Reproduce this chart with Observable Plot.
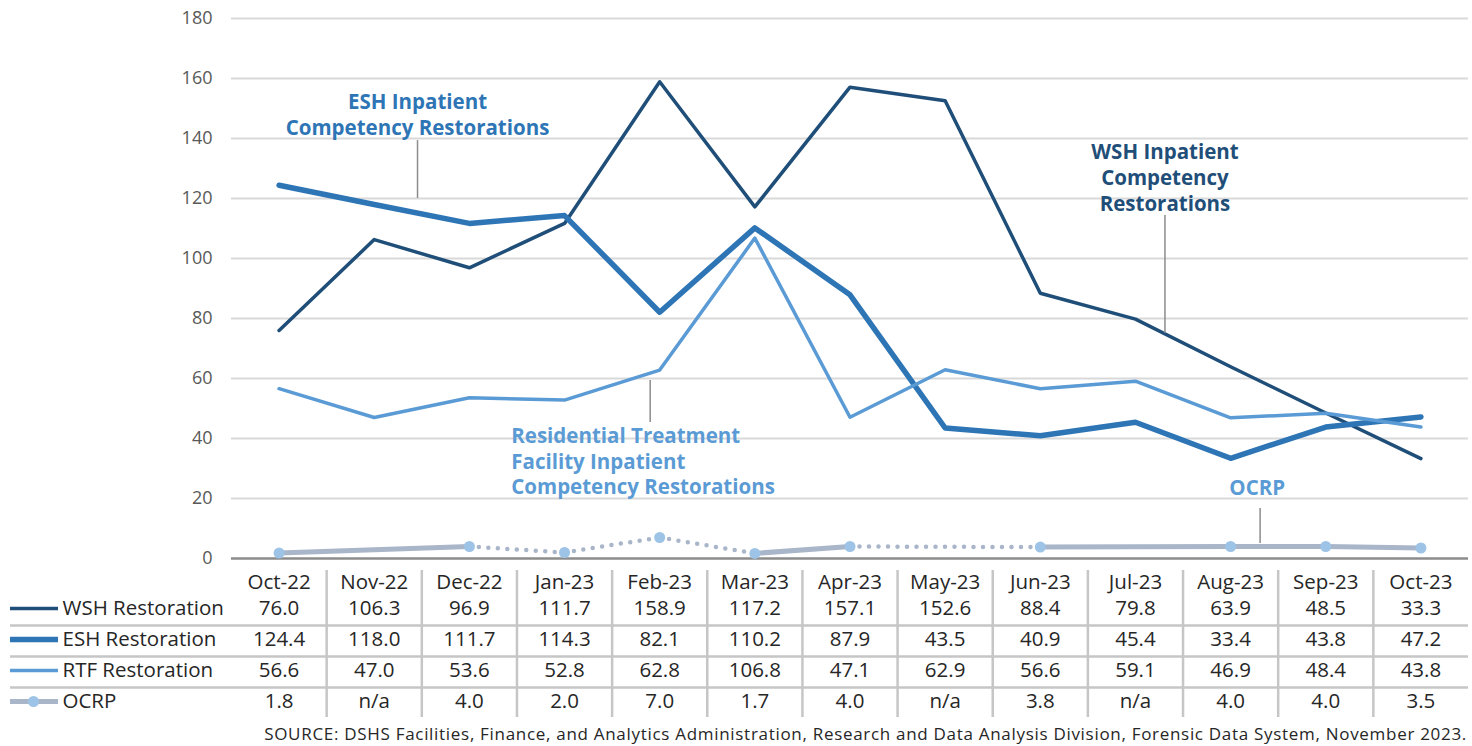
<!DOCTYPE html>
<html>
<head>
<meta charset="utf-8">
<script src="https://cdn.jsdelivr.net/npm/d3@7"></script>
<script src="https://cdn.jsdelivr.net/npm/@observablehq/plot@0.6"></script>
<style>
  html, body { margin: 0; padding: 0; background: #fff; }
  body { width: 1472px; height: 746px; overflow: hidden; font-family: "Open Sans", Lato, sans-serif; }
  svg { display: block; }
  #source { width: 1467px; text-align: right; font-size: 17px; letter-spacing: 0.7px; color: #262626; line-height: 28px; white-space: nowrap; }
</style>
</head>
<body>
<div id="chart"></div>
<div id="table"></div>
<div id="source">SOURCE: DSHS Facilities, Finance, and Analytics Administration, Research and Data Analysis Division, Forensic Data System, November 2023.</div>
<script>
// ---------- data ----------
const months = ["Oct-22","Nov-22","Dec-22","Jan-23","Feb-23","Mar-23","Apr-23","May-23","Jun-23","Jul-23","Aug-23","Sep-23","Oct-23"];
const wsh  = [76.0,106.3,96.9,111.7,158.9,117.2,157.1,152.6,88.4,79.8,63.9,48.5,33.3];
const esh  = [124.4,118.0,111.7,114.3,82.1,110.2,87.9,43.5,40.9,45.4,33.4,43.8,47.2];
const rtf  = [56.6,47.0,53.6,52.8,62.8,106.8,47.1,62.9,56.6,59.1,46.9,48.4,43.8];
const ocrp = [1.8,null,4.0,2.0,7.0,1.7,4.0,null,3.8,null,4.0,4.0,3.5];
// line style of each OCRP segment between consecutive reported months
const ocrpSegmentStyle = ["solid","dotted","dotted","dotted","solid","dotted","solid","solid","solid"];
const yTicks = [0,20,40,60,80,100,120,140,160,180];
const seriesNames = ["WSH Restoration","ESH Restoration","RTF Restoration","OCRP"];

// annotation labels (x in month-index units, y in value units)
const annoCentered = [
  {text: "ESH Inpatient\nCompetency Restorations", x: 1.455, y: 148.2, color: "#2E75B6"},
  {text: "WSH Inpatient\nCompetency\nRestorations", x: 9.31, y: 127.2, color: "#1F4E79"},
  {text: "OCRP", x: 10.28, y: 24, color: "#5B9BD5"}
];
const annoStart = [
  {text: "Residential Treatment\nFacility Inpatient\nCompetency Restorations", x: 2.44, y: 32.7, color: "#5B9BD5"}
];
const annoLeaders = [
  {x: 1.455, y1: 139.3, y2: 120},
  {x: 9.31, y1: 114.3, y2: 75},
  {x: 3.90, y1: 59.3, y2: 45.3},
  {x: 10.31, y1: 16.7, y2: 5}
];

// ---------- styles ----------
const colors = {WSH: "#1F4E79", ESH: "#2E75B6", RTF: "#5B9BD5", OCRPline: "#A9B5C9", OCRPdot: "#9DC3E6"};
const FONT = "'Open Sans', Lato, sans-serif";

// ---------- derived tables ----------
const toPts = arr => arr.map((v, i) => ({i, v})).filter(d => d.v != null);
const ocrpPts = toPts(ocrp);
const ocrpSegs = ocrpPts.slice(1).map((d, k) => ({x1: ocrpPts[k].i, y1: ocrpPts[k].v, x2: d.i, y2: d.v, style: ocrpSegmentStyle[k]}));

const xDomain = [-0.5, months.length - 0.5];

const chart = Plot.plot({
  width: 1472, height: 568,
  marginTop: 18, marginBottom: 10, marginLeft: 231, marginRight: 4,
  style: {fontFamily: FONT, color: "#595959", background: "#fff"},
  x: {type: "linear", domain: xDomain, axis: null},
  y: {domain: [0, 180], axis: null},
  marks: [
    Plot.ruleY(yTicks.filter(t => t > 0), {stroke: "#d9d9d9", strokeWidth: 2}),
    Plot.ruleY([0], {stroke: "#8c8c8c", strokeWidth: 2.5}),
    Plot.axisY({ticks: yTicks, tickSize: 0, tickPadding: 19, fontSize: 18, label: null, fill: "#595959"}),
    Plot.line(wsh.map((v, i) => ({i, v})), {x: "i", y: "v", stroke: colors.WSH, strokeWidth: 3.5}),
    Plot.line(esh.map((v, i) => ({i, v})), {x: "i", y: "v", stroke: colors.ESH, strokeWidth: 5.5}),
    Plot.line(rtf.map((v, i) => ({i, v})), {x: "i", y: "v", stroke: colors.RTF, strokeWidth: 3.5}),
    Plot.link(ocrpSegs.filter(d => d.style === "solid"), {x1: "x1", y1: "y1", x2: "x2", y2: "y2", stroke: colors.OCRPline, strokeWidth: 5}),
    Plot.link(ocrpSegs.filter(d => d.style === "dotted"), {x1: "x1", y1: "y1", x2: "x2", y2: "y2", stroke: colors.OCRPline, strokeWidth: 4.5, strokeDasharray: "0 9.5", strokeLinecap: "round"}),
    Plot.dot(ocrpPts, {x: "i", y: "v", r: 5.5, fill: colors.OCRPdot, stroke: "none"}),
    Plot.ruleX(annoLeaders, {x: "x", y1: "y1", y2: "y2", stroke: "#8c8c8c", strokeWidth: 1.5}),
    Plot.text(annoCentered, {x: "x", y: "y", text: "text", textAnchor: "middle", fill: "color", fontSize: 20.5, fontWeight: "bold", lineHeight: 1.25}),
    Plot.text(annoStart, {x: "x", y: "y", text: "text", textAnchor: "start", fill: "color", fontSize: 20.5, fontWeight: "bold", lineHeight: 1.25})
  ]
});
document.getElementById("chart").appendChild(chart);

// ---------- data table under the chart ----------
const rowKeys = ["header", ...seriesNames];
const seriesVals = [wsh, esh, rtf, ocrp];
const cells = seriesNames.flatMap((name, r) => seriesVals[r].map((v, i) => ({row: name, i, t: v == null ? "n/a" : v.toFixed(1)})));
const headerCells = months.map((m, i) => ({row: "header", i, t: m}));
const swatches = [
  {row: "WSH Restoration", color: colors.WSH, w: 3.5},
  {row: "ESH Restoration", color: colors.ESH, w: 5.5},
  {row: "RTF Restoration", color: colors.RTF, w: 3.5},
  {row: "OCRP", color: colors.OCRPline, w: 5}
];

const table = Plot.plot({
  width: 1472, height: 152,
  marginTop: 2, marginBottom: 3, marginLeft: 231, marginRight: 4,
  style: {fontFamily: FONT, color: "#262626", background: "#fff"},
  x: {type: "linear", domain: xDomain, axis: null},
  y: {type: "point", domain: rowKeys, range: [7, 134], padding: 0, axis: null},
  marks: [
    // horizontal separators between series rows (extend across legend column)
    Plot.ruleY(seriesNames.slice(1), {y: d => d, dy: -14, stroke: "#c6c6c6", strokeWidth: 2.5, insetLeft: -221}),
    // vertical separators between month columns
    Plot.ruleX(months.slice(1).map((m, i) => i + 0.5), {stroke: "#c6c6c6", strokeWidth: 2.5}),
    Plot.text(headerCells, {x: "i", y: "row", text: "t", dy: 5, fontSize: 20.5, fill: "#262626"}),
    Plot.text(cells, {x: "i", y: "row", text: "t", fontSize: 20.5, fill: "#262626"}),
    // legend swatches and labels in the left column
    Plot.ruleY(swatches, {y: "row", stroke: "color", strokeWidth: "w", insetLeft: -221, insetRight: 1410}),
    Plot.dot(swatches.filter(d => d.row === "OCRP"), {y: "row", frameAnchor: "left", dx: -198, r: 5.5, fill: colors.OCRPdot}),
    Plot.text(seriesNames, {y: d => d, text: d => d, frameAnchor: "left", dx: -169, textAnchor: "start", fontSize: 20.5, fill: "#262626"})
  ]
});
document.getElementById("table").appendChild(table);
</script>
</body>
</html>
